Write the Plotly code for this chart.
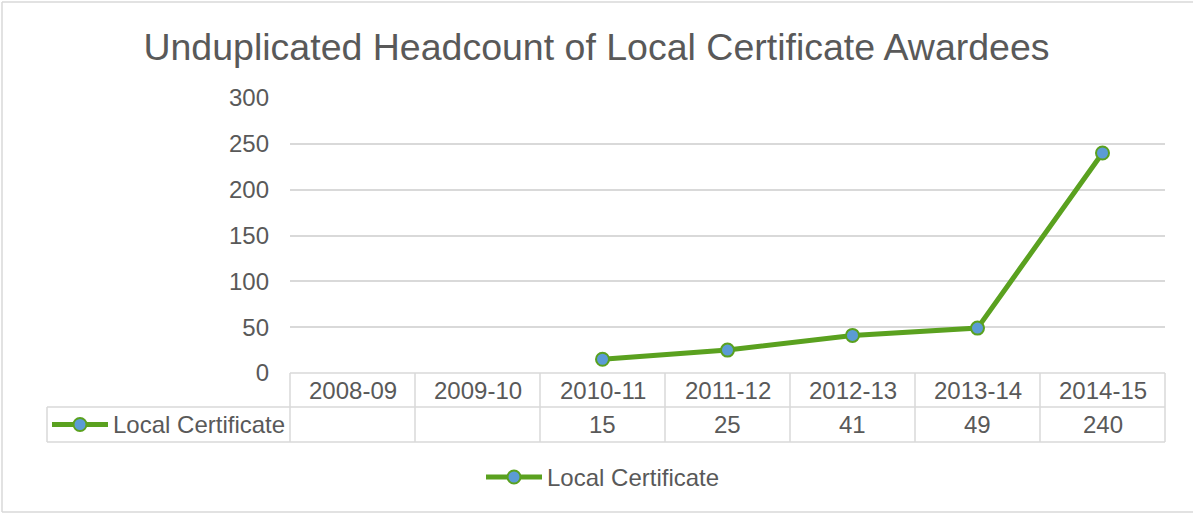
import plotly.graph_objects as go

categories = ["2008-09", "2009-10", "2010-11", "2011-12", "2012-13", "2013-14", "2014-15"]
values = [None, None, 15, 25, 41, 49, 240]
series_name = "Local Certificate"
title_text = "Unduplicated Headcount of Local Certificate Awardees"
y_ticks = [0, 50, 100, 150, 200, 250, 300]

W, H = 1193, 514
L, R, T, B = 290, 1165, 98, 373
PW, PH = R - L, B - T
GREEN = "#5AA11F"
BLUE = "#5B9BD5"
GRID = "#D9D9D9"
TEXT = "#595959"
FONT = "Liberation Sans, Arial, sans-serif"
FS = 24


def px(x):
    return (x - L) / PW


def py(y):
    return (B - y) / PH


fig = go.Figure()
fig.add_trace(go.Scatter(
    x=categories, y=values, mode="lines+markers", name=series_name,
    line=dict(color=GREEN, width=5),
    marker=dict(size=13, color=BLUE, line=dict(color=GREEN, width=2)),
    connectgaps=False, showlegend=False,
))

shapes = []
annotations = []
row1_bottom = 407
row2_bottom = 442
label_left = 47


def hline(x0, x1, y, color=GRID, width=1.5):
    shapes.append(dict(type="line", xref="paper", yref="paper", x0=x0, x1=x1, y0=y, y1=y,
                       line=dict(color=color, width=width)))


def vline(x, y0, y1, color=GRID, width=1.5):
    shapes.append(dict(type="line", xref="paper", yref="paper", x0=x, x1=x, y0=y0, y1=y1,
                       line=dict(color=color, width=width)))


def legend_key(x_left, y_mid):
    hline(px(x_left), px(x_left + 56), py(y_mid), color=GREEN, width=5)
    shapes.append(dict(type="circle", xref="paper", yref="paper", x0=px(x_left + 21.5), x1=px(x_left + 34.5),
                       y0=py(y_mid + 6.5), y1=py(y_mid - 6.5),
                       fillcolor=BLUE, line=dict(color=GREEN, width=2)))
    annotations.append(dict(xref="paper", yref="paper", x=px(x_left + 59), y=py(y_mid), text=series_name,
                            showarrow=False, xanchor="left", yanchor="middle",
                            font=dict(family=FONT, size=FS, color=TEXT)))


# table grid
hline(0, 1, 0)
for yy in (row1_bottom, row2_bottom):
    hline(px(label_left), 1, py(yy))
n = len(categories)
for i in range(n + 1):
    vline(i / n, 0, py(row2_bottom))
vline(px(label_left), py(row1_bottom), py(row2_bottom))
row2_mid = (row1_bottom + row2_bottom) / 2
legend_key(52, row2_mid)
row1_mid = (B + row1_bottom) / 2
for i, (c, v) in enumerate(zip(categories, values)):
    xc = (i + 0.5) / n
    annotations.append(dict(xref="paper", yref="paper", x=xc, y=py(row1_mid), text=c,
                            showarrow=False, xanchor="center", yanchor="middle",
                            font=dict(family=FONT, size=FS, color=TEXT)))
    if v is not None:
        annotations.append(dict(xref="paper", yref="paper", x=xc, y=py(row2_mid), text=str(v),
                                showarrow=False, xanchor="center", yanchor="middle",
                                font=dict(family=FONT, size=FS, color=TEXT)))
# bottom legend
legend_key(486, 477)
# outer chart border: left, top, bottom
hline(px(2), px(1193), py(2))
hline(px(2), px(1193), py(512))
vline(px(2), py(512), py(2))

fig.update_layout(
    width=W, height=H,
    margin=dict(l=L, r=W - R, t=T, b=H - B, pad=0),
    paper_bgcolor="white", plot_bgcolor="white",
    title=dict(text=title_text, x=0.5, xref="container", xanchor="center",
               y=1 - 47 / H, yref="container", yanchor="middle",
               font=dict(family=FONT, size=37.5, color=TEXT)),
    xaxis=dict(type="category", range=[-0.5, n - 0.5], showticklabels=False, showgrid=False,
               zeroline=False, showline=False, ticks=""),
    yaxis=dict(range=[0, 300], tickvals=y_ticks, showgrid=True, gridcolor=GRID, gridwidth=1.5,
               zeroline=False, showline=False, ticks="", ticklabelstandoff=20,
               tickfont=dict(family=FONT, size=FS, color=TEXT)),
    showlegend=False,
    shapes=shapes, annotations=annotations,
)

fig.write_html("out.html", config={"displayModeBar": False},
               post_script="document.body.style.margin='0';document.body.style.overflow='hidden';")
